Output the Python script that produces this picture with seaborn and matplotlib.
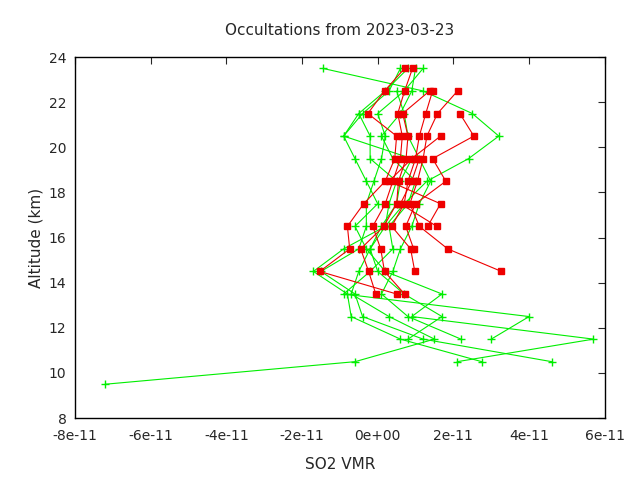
import matplotlib
matplotlib.use("Agg")
import matplotlib.pyplot as plt
import seaborn as sns
import pandas as pd
import numpy as np

# values in units of 1e-11 VMR; each profile = (start altitude, values going up by 1 km)
red_profiles = [
    (13.5, [0.5, -1.53, -0.74, -0.8, -0.37, 0.2, 0.45, 0.5, -0.26, 0.18, 0.71]),
    (13.5, [0.71, 0.18, 0.08, -0.13, 0.2, 0.4, 0.6, 0.65, 0.53, 0.71, 0.92]),
    (13.5, [-0.05, -0.24, -0.45, 0.16, 0.5, 0.55, 0.75, 0.8, 0.66, 1.37]),
    (14.5, [0.98, 0.87, 0.37, 0.7, 0.8, 1.0, 1.1, 1.27, 1.45]),
    (14.5, [3.27, 1.85, 1.1, 0.85, 1.05, 1.2, 1.3, 1.58, 2.11]),
    (15.5, [0.95, 0.74, 1.0, 1.8, 1.45, 2.54, 2.17]),
    (16.5, [1.32, 1.66, 0.3, 0.9, 1.66]),
    (16.5, [1.56, 0.6, 0.9, 1.1]),
]
green_profiles = [
    (9.5, [-7.2, -0.6, 1.5, 0.3, -0.7, -0.5, -0.2, 0.1, 0.5, 0.6, 0.9, -0.9, -0.5, 0.2, 0.8]),
    (10.5, [2.75, 0.6, -0.7, -0.8, -1.7, -0.9, 0.2, 0.7, 1.3, 2.4, 3.2, 2.5, 1.2, -1.45]),
    (10.5, [4.6, 1.2, -0.4, -0.6, -1.5, -0.5, -0.3, -0.3, -0.1, 0.1, 0.2, 0.0, 0.7, 1.2]),
    (10.5, [2.1, 5.7, 0.9, 1.7, 0.2, -0.3, -0.6, 0.0, -0.3, -0.6, -0.9, -0.4, 0.3, 0.6]),
    (11.5, [3.0, 4.0, -0.9, -0.2, 0.4, 0.3, 0.8, 1.0, 0.4, 0.1, 0.6, 0.9, 1.0]),
    (11.5, [2.2, 0.8, 0.1, 0.4, 0.6, 0.9, 1.1, 1.4, 1.1, 0.8, 0.7, 0.5]),
    (11.5, [0.8, 1.7, 0.7, 0.0, -0.2, 0.2, 0.3, 0.5, -0.2, -0.2, -0.5]),
]
x_ticks = [-8e-11, -6e-11, -4e-11, -2e-11, 0, 2e-11, 4e-11, 6e-11]
x_labels = ["-8e-11", "-6e-11", "-4e-11", "-2e-11", "0e+00", "2e-11", "4e-11", "6e-11"]
y_ticks = [8, 10, 12, 14, 16, 18, 20, 22, 24]

plt.rcParams["font.family"] = "Liberation Sans"
sns.set_style("white")
fig = plt.figure(figsize=(6.4, 4.8), dpi=100)
ax = fig.add_axes([0.117, 0.129, 0.828, 0.752])


def draw(profiles, color, marker, ms):
    for start, vals in profiles:
        df = pd.DataFrame({
            "vmr": np.array(vals) * 1e-11,
            "alt": start + np.arange(len(vals)),
        })
        sns.lineplot(data=df, x="vmr", y="alt", sort=False, estimator=None,
                     color=color, lw=0.8, marker=marker, ms=ms, mew=1,
                     mec=color, ax=ax)


draw(green_profiles, "#00ee00", "+", 6)
draw(red_profiles, "#ee0000", "s", 5)

ax.set_xlim(-8e-11, 6e-11)
ax.set_ylim(8, 24)
ax.set_xticks(x_ticks)
ax.set_xticklabels(x_labels)
ax.set_yticks(y_ticks)
ax.tick_params(direction="in", length=5, labelsize=10, top=True, right=True)
ax.tick_params(axis="x", pad=8)
ax.tick_params(axis="y", pad=6)
for s in ax.spines.values():
    s.set_color("black")
    s.set_linewidth(1)
ax.set_xlabel("SO2 VMR", fontsize=11, labelpad=10)
ax.set_ylabel("Altitude (km)", fontsize=11)
ax.set_title("Occultations from 2023-03-23", fontsize=11, pad=16)
fig.savefig("out.png", dpi=100)
